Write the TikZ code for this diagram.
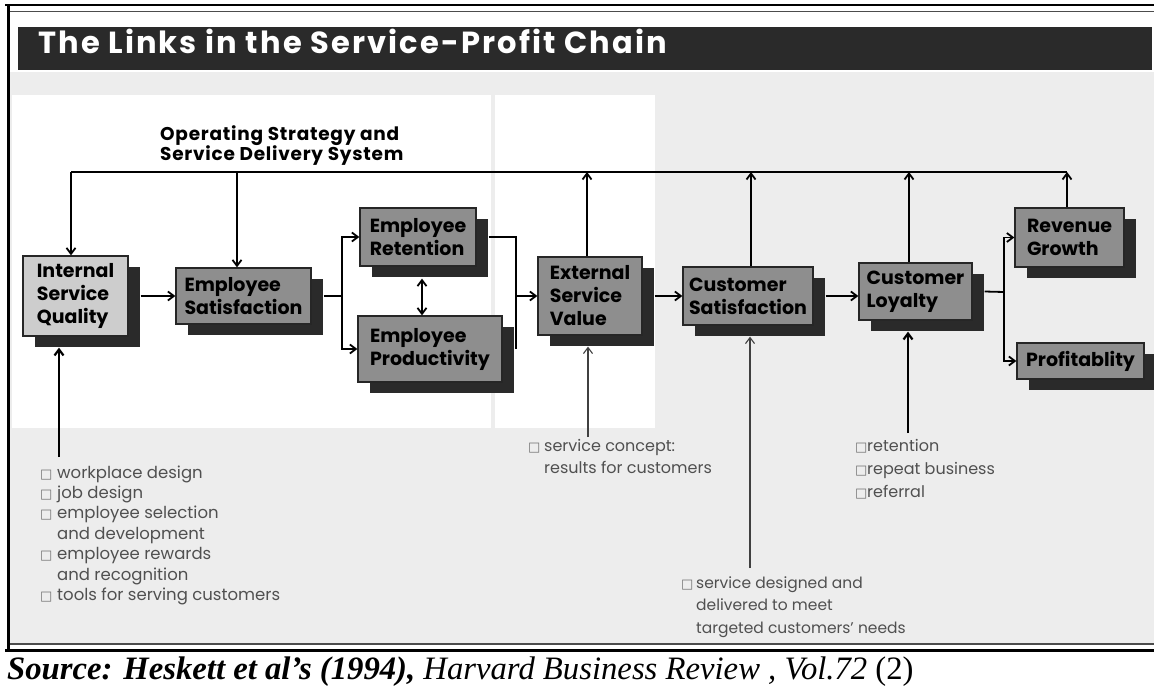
\documentclass[tikz,border=0pt]{standalone}
\usepackage{xcolor}
\usepackage{fontspec}
\setmainfont{Poppins}
\newfontfamily\serif{Liberation Serif}
\newfontfamily\boxglyph{DejaVu Sans}
\usetikzlibrary{arrows.meta,shadows}

\definecolor{panel}{HTML}{EDEDED}
\definecolor{boxgray}{HTML}{8E8E8E}
\definecolor{lightbox}{HTML}{CDCDCD}
\definecolor{shadowgray}{HTML}{2A2A2A}
\definecolor{listgray}{HTML}{505050}

% little hollow square in front of each list item
\newcommand{\chkbox}[1][16pt]{\makebox[#1][l]{\boxglyph\fontsize{13}{13}\selectfont\color{black!55}□}}

\begin{document}
\begin{tikzpicture}[x=1pt, y=-1pt,
        chainbox/.style={draw=black!85, line width=1.3pt, fill=boxgray, align=left, inner sep=0pt,
            font=\bfseries\fontsize{19}{23}\selectfont,
            drop shadow={shadow xshift=12pt, shadow yshift=-11pt, fill=shadowgray, opacity=1}},
        link/.style={line width=1.8pt, -{Straight Barb[length=6pt,width=9pt]}},
        wire/.style={line width=1.8pt},
        feed/.style={line width=1.1pt, black!75, -{Straight Barb[length=6pt,width=9pt]}},
        listtext/.style={anchor=base west, inner sep=0pt, text=listgray, font=\fontsize{16}{22}\selectfont}]
    \useasboundingbox (0,0) rectangle (1154,686);

    % page, grey field and the two white panels
    \fill[white] (0,0) rectangle (1154,686);
    \fill[panel] (10,72) rectangle (1154,643);
    \fill[white] (12,95) rectangle (491,428);
    \fill[white] (495,95) rectangle (655,428);
    \fill[shadowgray] (18,27) rectangle (1152,70);

    % frame
    \draw[line width=2.5pt] (5,5) -- (1154,5);
    \draw[line width=1.6pt, black!70] (10,11.5) -- (1154,11.5);
    \draw[line width=3pt] (8,5) -- (8,651);
    \draw[line width=1.6pt, black!70] (10,644) -- (1154,644);
    \draw[line width=3pt] (5,650.5) -- (1154,650.5);

    \node[anchor=base west, inner sep=0pt, text=white, font=\bfseries\fontsize{30.5}{32}\selectfont\addfontfeatures{LetterSpace=7}] (title) at (38,53) {The Links in the Service-Profit Chain};
    \node[anchor=base west, inner sep=0pt, font=\bfseries\fontsize{18.5}{20}\selectfont\addfontfeatures{LetterSpace=4}] (ops) at (160,140)
        {\begin{tabular}[t]{@{}l@{}}Operating Strategy and\\Service Delivery System\end{tabular}};

    % the chain
    \node[chainbox, fill=lightbox, minimum width=105pt, minimum height=80pt] (isq) at (75.5,296) {Internal\\Service\\Quality};
    \node[chainbox, minimum width=135pt, minimum height=56pt] (esat) at (243.5,296) {Employee\\Satisfaction};
    \node[chainbox, minimum width=116pt, minimum height=58pt] (eret) at (418,237) {Employee\\Retention};
    \node[chainbox, minimum width=144pt, minimum height=66pt] (eprod) at (430,349) {Employee\\Productivity};
    \node[chainbox, minimum width=104pt, minimum height=78pt] (esv) at (590,296) {External\\Service\\Value};
    \node[chainbox, minimum width=130pt, minimum height=58pt] (csat) at (748,296) {Customer\\Satisfaction};
    \node[chainbox, minimum width=113pt, minimum height=57pt] (cloy) at (915.5,291.5) {Customer\\Loyalty};
    \node[chainbox, minimum width=109pt, minimum height=59pt] (rev) at (1069.5,237.5) {Revenue\\Growth};
    \node[chainbox, minimum width=127pt, minimum height=36pt] (prof) at (1080.5,361) {Profitablity};

    % bottom edges of the shadows
    \coordinate (isqS) at ([yshift=-11pt]isq.south);
    \coordinate (esvS) at ([yshift=-11pt]esv.south);
    \coordinate (csatS) at ([yshift=-11pt]csat.south);
    \coordinate (cloyS) at ([yshift=-11pt]cloy.south);

    % strategy line across the top
    \coordinate (busL) at (71,172);
    \coordinate (busE) at (237,172);
    \coordinate (tapV) at (587,172);
    \coordinate (tapS) at (751,172);
    \coordinate (tapL) at (909,172);
    \coordinate (busR) at (1067,172);
    \draw[wire] (busL) -- (busR);
    \draw[link] (busL) -- (busL |- isq.north);
    \draw[link] (busE) -- (busE |- esat.north);
    \draw[link] (tapV |- esv.north) -- (tapV);
    \draw[link] (tapS |- csat.north) -- (tapS);
    \draw[link] (tapL |- cloy.north) -- (tapL);
    \draw[link] (busR |- rev.north) -- (busR);

    % links along the chain
    \draw[link] ([xshift=12pt]isq.east) -- (esat.west);
    \coordinate (fork1) at (342,296);
    \draw[wire] ([xshift=12pt]esat.east) -- (fork1);
    \draw[link] (fork1) |- (eret.west);
    \draw[link] (fork1) |- (eprod.west);
    \draw[line width=1.8pt, {Straight Barb[length=6pt,width=9pt]}-{Straight Barb[length=6pt,width=9pt]}]
        ([xshift=4pt,yshift=-12pt]eret.south) -- ([xshift=4pt]eret.south |- eprod.north);
    \draw[wire] ([xshift=12pt]eret.east) -| ([xshift=13pt]eprod.east);
    \coordinate (merge) at (515,296);
    \draw[link] (merge) -- (esv.west);
    \draw[link] ([xshift=12pt]esv.east) -- (csat.west);
    \draw[link] ([xshift=12pt]csat.east) -- (csat.east -| cloy.west);
    \coordinate (fork2) at (1004,292);
    \draw[wire] ([xshift=12pt]cloy.east) -- (fork2);
    \draw[link] (fork2) |- (rev.west);
    \draw[link] (fork2) |- (prof.west);

    % drivers from below
    \coordinate (footQ) at (59,457);
    \coordinate (footV) at (588,437);
    \coordinate (footS) at (750,568);
    \coordinate (footL) at (908,433);
    \draw[link, line width=2.2pt] (footQ) -- (footQ |- isqS);
    \draw[feed] (footV) -- (footV |- esvS);
    \draw[feed] (footS) -- (footS |- csatS);
    \draw[link, line width=2.2pt] (footL) -- (footL |- cloyS);

    \node[listtext, font=\fontsize{16.5}{20.4}\selectfont] (staffaids) at (40,478)
        {\begin{tabular}[t]{@{}l@{}l@{}}
            \chkbox[17pt] & workplace design\\
            \chkbox[17pt] & job design\\
            \chkbox[17pt] & employee selection\\
             & and development\\
            \chkbox[17pt] & employee rewards\\
             & and recognition\\
            \chkbox[17pt] & tools for serving customers
        \end{tabular}};
    \node[listtext] (concept) at (528,451)
        {\begin{tabular}[t]{@{}l@{}l@{}}
            \chkbox & service concept:\\
             & results for customers
        \end{tabular}};
    \node[listtext, font=\fontsize{15.5}{22.5}\selectfont] (design) at (681,588)
        {\begin{tabular}[t]{@{}l@{}l@{}}
            \chkbox[15pt] & service designed and\\
             & delivered to meet\\
             & targeted customers’ needs
        \end{tabular}};
    \node[listtext, font=\fontsize{16}{23}\selectfont] (loyalaids) at (855,451)
        {\begin{tabular}[t]{@{}l@{}l@{}}
            \chkbox[12pt] & retention\\
            \chkbox[12pt] & repeat business\\
            \chkbox[12pt] & referral
        \end{tabular}};

    \node[anchor=base west, inner sep=0pt, font=\serif\fontsize{32.7}{34}\selectfont] (source) at (7,679)
        {{\bfseries\itshape Source: Heskett et al’s (1994),} {\itshape Harvard Business Review , Vol.72} (2)};
\end{tikzpicture}
\end{document}
